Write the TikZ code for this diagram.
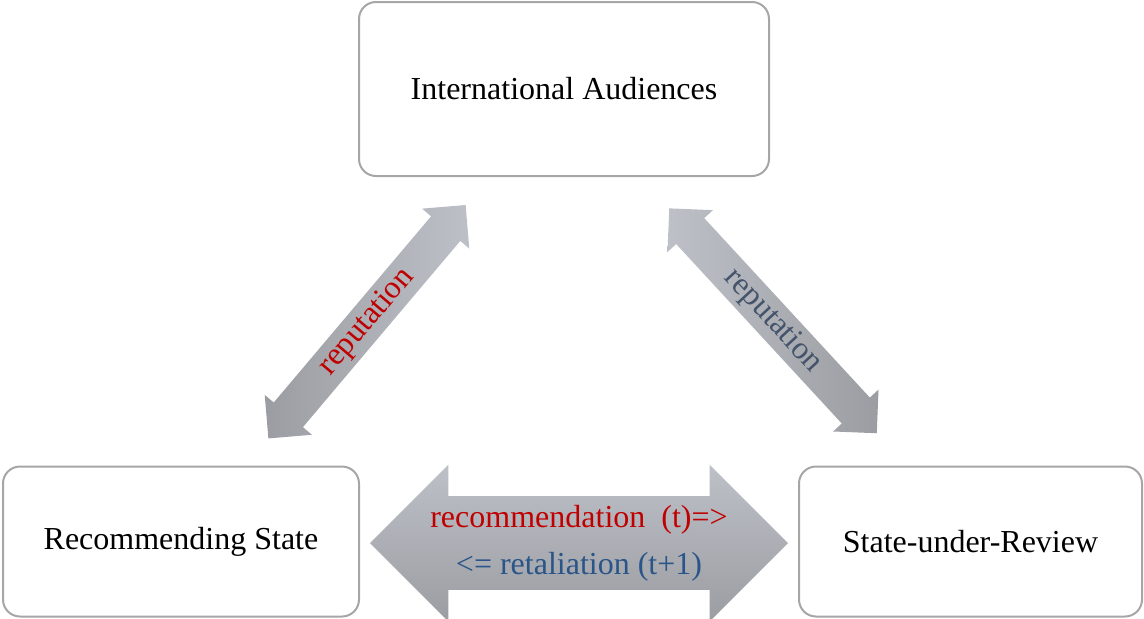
\documentclass[tikz,border=0pt]{standalone}
\usepackage{fontspec}
\setmainfont{Liberation Serif}
\usepackage{tikz}
\usetikzlibrary{shapes.arrows, calc}
\definecolor{recred}{HTML}{C00000}
\definecolor{retblue}{HTML}{2A5588}
\definecolor{repgray}{HTML}{44546A}
\definecolor{boxgray}{HTML}{A6A6A6}
\definecolor{arrowlight}{HTML}{BDC0C7}
\definecolor{arrowdark}{HTML}{9B9DA2}
\begin{document}
\begin{tikzpicture}[x=0.5pt, y=-0.5pt,
  actor/.style={draw=boxgray, line width=1pt, rounded corners=8.5pt, fill=white, font=\fontsize{16}{19}\selectfont},
  blockarrow/.style={double arrow, double arrow tip angle=90, minimum width=0pt, inner xsep=0pt, font=\fontsize{16}{19}\selectfont}]
\useasboundingbox (0,0) rectangle (1144,618);
\node[actor, minimum width=205pt, minimum height=87pt] (ia) at (564,89) {International Audiences};
\node[actor, minimum width=178pt, minimum height=75pt] (rs) at (181,541.5) {Recommending State};
\node[actor, minimum width=171.5pt, minimum height=75pt] (sr) at (970.5,541.5) {State-under-Review};
\node[blockarrow, minimum height=209pt, double arrow head extend=15.75pt, inner ysep=0pt, top color=arrowlight, bottom color=arrowdark] (rec) at ($(rs.east)!0.5!(sr.west)+(0,1.5)$)
  {\parbox[c][46.5pt][c]{150pt}{\centering\fontsize{16}{23.5}\selectfont\textcolor{recred}{recommendation\ \ (t)=>}\\\textcolor{retblue}{<= retaliation (t+1)}}};
\node[blockarrow, minimum height=152.8pt, double arrow head extend=5.9pt, text height=11pt, text depth=3.5pt, inner ysep=2.1pt, rotate=49.8, left color=arrowdark, right color=arrowlight, text=recred] (repl) at (367,321.7) {reputation};
\node[blockarrow, minimum height=153pt, double arrow head extend=5.9pt, text height=11pt, text depth=3.5pt, inner ysep=2.1pt, rotate=-47.3, left color=arrowlight, right color=arrowdark, text=repgray] (repr) at (773,320.8) {reputation};
\end{tikzpicture}
\end{document}
